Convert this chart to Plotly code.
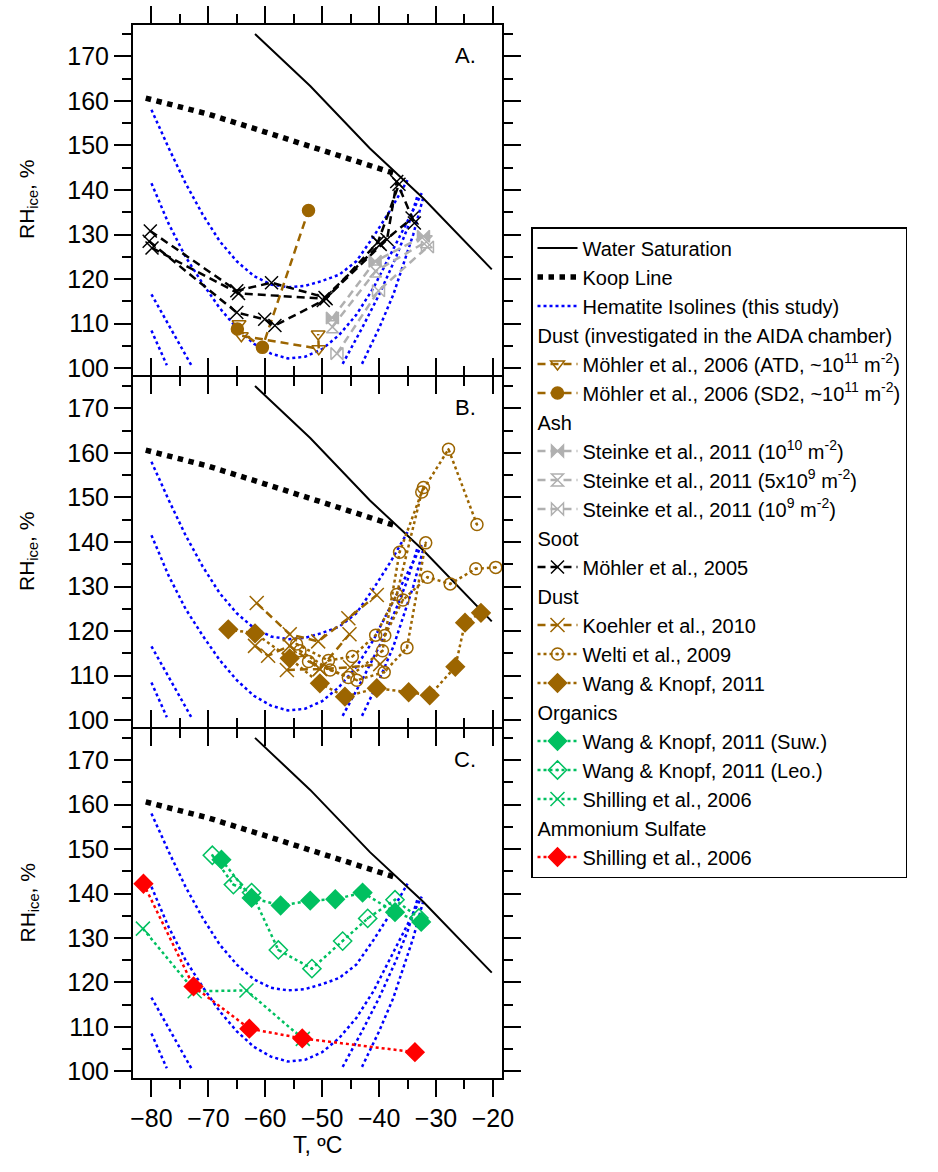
import plotly.graph_objects as go
from plotly.subplots import make_subplots

# ---------------- data ----------------
# Reference lines (same in every panel)
ws_T = [-61.8, -52.1, -41.6, -32.2, -20.2]
ws_RH = [175.0, 163.3, 149.3, 138.1, 122.2]

koop_T = [-81.0, -70.0, -60.0, -50.0, -37.5]
koop_RH = [160.6, 157.0, 153.0, 149.0, 143.8]

iso1_T = [-80, -77, -74, -71, -68, -65, -62, -59, -56, -53, -50, -47, -44, -41, -38, -35]
iso1_RH = [158.0, 149.5, 141.5, 134.5, 128.5, 124.0, 120.7, 118.8, 118.2, 118.5, 119.6, 121.0, 124.0, 129.5, 135.5, 142.2]
iso2_T = [-80, -77, -74, -71, -68, -65, -62, -59, -56, -53, -50, -47, -44, -41, -38, -35, -32.5]
iso2_RH = [141.5, 132.5, 125.0, 119.0, 113.5, 109.0, 105.5, 103.3, 102.2, 102.6, 104.3, 107.5, 112.0, 118.0, 125.5, 133.0, 139.3]
iso3_T = [-46.4, -43.0, -40.0, -37.0, -35.0, -33.3]
iso3_RH = [101.0, 109.0, 116.5, 125.0, 131.5, 138.5]
iso4_T = [-43.0, -40.0, -37.5, -35.5, -34.0, -32.3]
iso4_RH = [101.0, 109.0, 116.5, 124.0, 130.0, 138.0]
iso5_T = [-80.0, -76.5, -73.0]
iso5_RH = [116.6, 108.5, 100.7]
iso6_T = [-80.0, -77.3]
iso6_RH = [108.5, 100.7]

# Panel A
atd_T = [-64.6, -64.2, -50.6, -50.7]
atd_RH = [110.0, 107.3, 104.4, 107.7]
sd2_T = [-64.9, -60.5, -52.4]
sd2_RH = [108.8, 104.7, 135.4]
st10_T = [-48.2, -40.7, -32.2]
st10_RH = [111.3, 124.0, 129.6]
st5_T = [-48.2, -40.6, -31.7]
st5_RH = [109.3, 121.8, 128.4]
st1_T = [-47.4, -40.1, -31.5]
st1_RH = [103.3, 117.4, 127.2]
soot_T = [[-80.2, -65.0, -58.9, -49.5, -39.8, -34.2],
          [-80.4, -65.0, -60.1, -58.3, -49.8, -38.6, -36.9, -33.8],
          [-79.9, -64.7, -49.3, -40.2, -36.5]]
soot_RH = [[130.8, 117.4, 119.2, 115.9, 127.8, 133.7],
           [128.5, 112.5, 111.0, 109.6, 115.2, 128.9, 141.9, 132.6],
           [127.0, 116.8, 115.6, 128.3, 141.3]]

# Panel B
koe_T = [[-61.5, -55.7, -50.7, -45.4, -40.4],
         [-61.8, -59.5, -55.7, -50.4, -45.2],
         [-56.2, -50.4, -45.1, -39.8]]
koe_RH = [[126.3, 119.3, 117.7, 122.9, 128.1],
          [116.7, 114.5, 116.7, 111.5, 119.3],
          [111.3, 111.5, 111.9, 112.6]]
wel_T = [[-54.5, -48.9, -44.7, -40.6, -36.9, -32.5, -27.8, -22.8],
         [-53.9, -48.6, -45.4, -39.4, -36.4, -32.2],
         [-52.4, -43.9, -39.1, -35.1, -31.8],
         [-39.0, -35.8, -31.5, -27.5, -23.0, -19.5]]
wel_RH = [[117.1, 113.4, 114.3, 119.1, 128.2, 151.2, 160.8, 143.9],
          [115.6, 111.3, 109.6, 115.6, 137.7, 152.2],
          [113.2, 109.0, 110.8, 116.3, 139.8],
          [119.0, 127.0, 132.1, 130.6, 134.0, 134.3]]
wkd_T = [-66.5, -61.8, -55.7, -50.4, -46.0, -40.4, -34.8, -31.1, -26.6, -24.9, -22.1]
wkd_RH = [120.4, 119.5, 113.9, 108.3, 105.3, 107.2, 106.3, 105.6, 112.0, 121.9, 124.1]

# Panel C
suw_T = [-67.7, -62.4, -57.3, -52.1, -47.7, -42.9, -37.2, -32.6]
suw_RH = [147.6, 139.0, 137.3, 138.4, 138.7, 140.2, 135.8, 133.6]
leo_T = [-69.3, -65.6, -62.4, -57.7, -51.8, -46.4, -42.0, -37.2, -33.0]
leo_RH = [148.6, 142.0, 140.2, 127.3, 123.1, 129.3, 134.4, 138.6, 134.5]
shio_T = [-81.5, -72.4, -63.3, -53.4]
shio_RH = [132.1, 118.0, 118.2, 107.3]
as_T = [-81.4, -72.6, -62.8, -53.5, -33.7]
as_RH = [142.2, 119.1, 109.6, 107.4, 104.3]

x_ticks = [-80, -70, -60, -50, -40, -30, -20]
y_ticks = [100, 110, 120, 130, 140, 150, 160, 170]

# ---------------- styling ----------------
BROWN = "#9C6500"
GREEN = "#00C060"
GREY = "#B0B0B0"
BLUE = "#0000FF"
RED = "#FF0000"
DASH = "8px,5px"
FONT = "Arial, 'Liberation Sans', sans-serif"


def join(xs_list, ys_list):
    X, Y = [], []
    for a, b in zip(xs_list, ys_list):
        X += list(a) + [None]
        Y += list(b) + [None]
    return X[:-1], Y[:-1]


fig = make_subplots(rows=3, cols=1, vertical_spacing=0)


def add(row, x, y, name, color, dash, width, symbol=None, msize=12, mlw=1.5,
        group=None, gtitle=None, show=True):
    mode = "lines+markers" if symbol else "lines"
    tr = go.Scatter(x=x, y=y, name=name, mode=mode,
                    line=dict(color=color, dash=dash, width=width),
                    showlegend=show, connectgaps=False)
    if symbol:
        tr.marker = dict(symbol=symbol, size=msize, color=color,
                         line=dict(color=color, width=mlw))
    if group:
        tr.legendgroup = group
        if gtitle:
            tr.legendgrouptitle = dict(text=gtitle, font=dict(size=20, color="black"))
    fig.add_trace(tr, row=row, col=1)


iso_T = [iso1_T, iso2_T, iso3_T, iso4_T, iso5_T, iso6_T]
iso_RH = [iso1_RH, iso2_RH, iso3_RH, iso4_RH, iso5_RH, iso6_RH]
ix, iy = join(iso_T, iso_RH)

for r in (1, 2, 3):
    add(r, ix, iy, "Hematite Isolines (this study)", BLUE, "dot", 2.5,
        group="iso", show=False)
    add(r, ws_T, ws_RH, "Water Saturation", "black", "solid", 2, group="ws", show=False)
    add(r, koop_T, koop_RH, "Koop Line", "black", "dot", 5.5, group="koop", show=False)

# legend entries for reference lines
add(1, [None], [None], "Water Saturation", "black", "solid", 2, group="ws")
add(1, [None], [None], "Koop Line", "black", "dot", 5.5, group="koop")
add(1, [None], [None], "Hematite Isolines (this study)", BLUE, "dot", 2.5, group="iso")

# Panel A
add(1, atd_T, atd_RH, "Möhler et al., 2006 (ATD, ~10<sup>11</sup> m<sup>-2</sup>)", BROWN, DASH, 2.5,
    symbol="triangle-down-open", msize=12, group="aida",
    gtitle="Dust (investigated in the AIDA chamber)")
add(1, sd2_T, sd2_RH, "Möhler et al., 2006 (SD2, ~10<sup>11</sup> m<sup>-2</sup>)", BROWN, DASH, 2.5,
    symbol="circle", msize=12, group="aida")
add(1, st10_T, st10_RH, "Steinke et al., 2011 (10<sup>10</sup> m<sup>-2</sup>)", GREY, DASH, 2.5,
    symbol="bowtie", msize=12, group="ash", gtitle="Ash")
add(1, st5_T, st5_RH, "Steinke et al., 2011 (5x10<sup>9</sup> m<sup>-2</sup>)", GREY, DASH, 2.5,
    symbol="hourglass-open", msize=12, group="ash")
add(1, st1_T, st1_RH, "Steinke et al., 2011 (10<sup>9</sup> m<sup>-2</sup>)", GREY, DASH, 2.5,
    symbol="bowtie-open", msize=12, group="ash")
sx, sy = join(soot_T, soot_RH)
add(1, sx, sy, "Möhler et al., 2005", "black", DASH, 2.5,
    symbol="x-thin-open", msize=13, group="soot", gtitle="Soot")

# Panel B
kx, ky = join(koe_T, koe_RH)
add(2, kx, ky, "Koehler et al., 2010", BROWN, DASH, 2.5,
    symbol="x-thin-open", msize=14, group="dust", gtitle="Dust")
wx, wy = join(wel_T, wel_RH)
add(2, wx, wy, "Welti et al., 2009", BROWN, "dot", 2.5,
    symbol="circle-open-dot", msize=12, group="dust")
add(2, wkd_T, wkd_RH, "Wang & Knopf, 2011", BROWN, "dot", 2.5,
    symbol="diamond", msize=14, group="dust")

# Panel C
add(3, suw_T, suw_RH, "Wang & Knopf, 2011 (Suw.)", GREEN, "dot", 2.5,
    symbol="diamond", msize=14, group="org", gtitle="Organics")
add(3, leo_T, leo_RH, "Wang & Knopf, 2011 (Leo.)", GREEN, "dot", 2.5,
    symbol="diamond-open-dot", msize=14, group="org")
add(3, shio_T, shio_RH, "Shilling et al., 2006", GREEN, "dot", 2.5,
    symbol="x-thin-open", msize=14, group="org")
add(3, as_T, as_RH, "Shilling et al., 2006 ", RED, "dot", 2.5,
    symbol="diamond", msize=14, group="as", gtitle="Ammonium Sulfate")

W, H = 938, 1172
ml, mr, mt, mb = 133, W - 502, 25, 94
PH = H - mt - mb  # 1053


def frac(py):
    """pixel row (from figure top) -> paper fraction"""
    return 1 - (py - mt) / PH


# panel pixel extents; 2px gap so the outward-drawn boundary lines coincide
domains = {1: [frac(375), frac(25)], 2: [frac(727), frac(377)], 3: [frac(1078), frac(729)]}
for r in (1, 2, 3):
    fig.update_xaxes(row=r, col=1, range=[-83.24, -18.4], tickvals=x_ticks,
                     showticklabels=(r == 3), ticks="outside", ticklen=17, tickwidth=2,
                     tickcolor="black", showline=True, linecolor="black", linewidth=2,
                     mirror="allticks", showgrid=False, zeroline=False,
                     minor=dict(dtick=5, tick0=-80, ticks="outside", ticklen=9,
                                tickwidth=2, tickcolor="black", showgrid=False),
                     tickfont=dict(size=25, color="black"))
    fig.update_yaxes(row=r, col=1, range=[98.5, 177.0], tickvals=y_ticks, domain=domains[r],
                     ticks="outside", ticklen=17, tickwidth=2, tickcolor="black",
                     showline=True, linecolor="black", linewidth=2, mirror="allticks",
                     showgrid=False, zeroline=False,
                     minor=dict(dtick=5, tick0=100, ticks="outside", ticklen=9,
                                tickwidth=2, tickcolor="black", showgrid=False),
                     tickfont=dict(size=25, color="black"))

ann = []
for r, lab in zip((1, 2, 3), ("A.", "B.", "C.")):
    xd = "x domain" if r == 1 else f"x{r} domain"
    yd = "y domain" if r == 1 else f"y{r} domain"
    ann.append(dict(text=lab, x=0.90, y=0.912, xref=xd, yref=yd, showarrow=False,
                    xanchor="center", yanchor="middle",
                    font=dict(size=22, color="black")))
    ann.append(dict(text="RH<sub>ice</sub>, %", x=(28 - ml) / (W - ml - mr), y=0.5,
                    xref=xd, yref=yd, xanchor="center", yanchor="middle",
                    showarrow=False, textangle=-90, font=dict(size=21, color="black")))
ann.append(dict(text="T, ºC", x=0.5, y=-52 / PH, xref="paper", yref="paper",
                xanchor="center", yanchor="top", showarrow=False,
                font=dict(size=23, color="black")))

fig.update_layout(
    width=W, height=H,
    margin=dict(l=ml, r=mr, t=mt, b=mb, autoexpand=False),
    paper_bgcolor="white", plot_bgcolor="white",
    font=dict(family=FONT, color="black"),
    annotations=ann,
    legend=dict(x=(531 - ml) / (W - ml - mr), y=frac(227),
                xanchor="left", yanchor="top", bordercolor="black", borderwidth=1.5,
                bgcolor="white", font=dict(size=20, color="black"),
                traceorder="grouped", tracegroupgap=0, itemwidth=40),
)

fig.write_html("out.html")
